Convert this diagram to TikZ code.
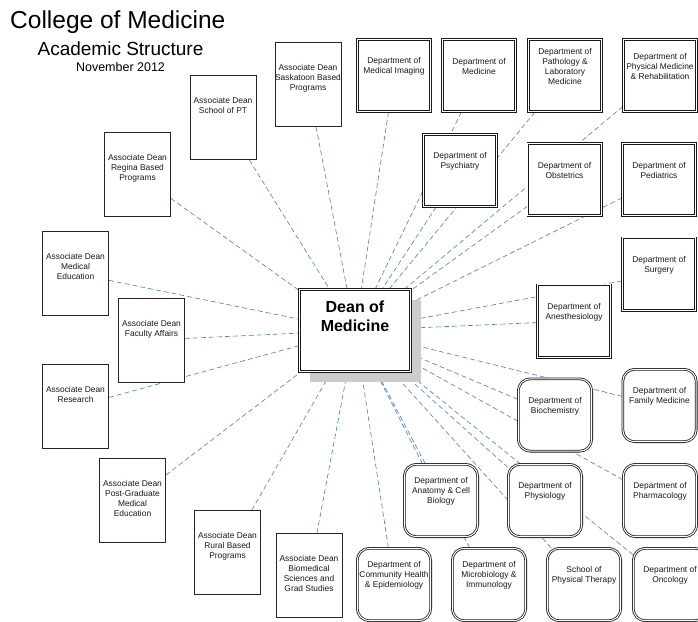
\documentclass[tikz,border=0pt]{standalone}
\usepackage{fontspec}
\setmainfont{Liberation Sans}
\usetikzlibrary{positioning,shadows}
\pgfdeclarelayer{bg}
\pgfsetlayers{bg,main}

\definecolor{linkblue}{RGB}{72,122,212}

\tikzset{
    assoc/.style={draw=black!85, line width=0.8pt, fill=white, minimum width=66pt, minimum height=84pt, inner sep=0pt},
    dept/.style={draw=black!90, double, double distance=1pt, line width=0.8pt, fill=white, minimum width=73.4pt, minimum height=72.4pt, inner sep=0pt},
    deptround/.style={dept, rounded corners=12pt},
    dean/.style={draw=black!90, double, double distance=1.2pt, line width=0.9pt, fill=white, minimum width=111pt, minimum height=82pt, inner sep=0pt,
        drop shadow={shadow xshift=10pt, shadow yshift=-10pt, fill=black!20, opacity=1}},
    boxtext/.style={align=center, inner sep=0pt, font=\fontsize{8.4}{10}\selectfont, text=black!90},
    link/.style={draw=linkblue, line width=0.6pt, dash pattern=on 5pt off 3pt},
}

\begin{document}
\begin{tikzpicture}[x=1pt, y=-1pt]
    \useasboundingbox (0,0) rectangle (698,621);
    % title
    \node[inner sep=0pt, anchor=base west, font=\fontsize{24.5}{28}\selectfont] (title) at (10,28) {College of Medicine};
    \node[inner sep=0pt, font=\fontsize{19}{22}\selectfont] (subtitle) at (120.5,49) {Academic Structure};
    \node[inner sep=0pt, font=\fontsize{12.5}{15}\selectfont] (date) at (120.5,67) {November 2012};

    % dean
    \node[dean] (dean) at (355,330.5) {};
    \node[inner sep=0pt, align=center, font=\bfseries\fontsize{16}{19}\selectfont] (dean-t) at ([yshift=-27.5pt]dean.north) {Dean of\\Medicine};

    % associate deans
    \foreach \n/\x/\y/\t in {
        sask/308/84.5/{Associate Dean\\Saskatoon Based\\Programs},
        schpt/223/117.5/{Associate Dean\\School of PT},
        regina/137.5/174.5/{Associate Dean\\Regina Based\\Programs},
        meded/75.5/273.5/{Associate Dean\\Medical\\Education},
        faculty/151.5/340/{Associate Dean\\Faculty Affairs},
        research/75.5/406.5/{Associate Dean\\Research},
        postgrad/132.5/500.5/{Associate Dean\\Post-Graduate\\Medical\\Education},
        rural/227.5/552.5/{Associate Dean\\Rural Based\\Programs},
        biomed/309/575.5/{Associate Dean\\Biomedical\\Sciences and\\Grad Studies}}
        {
            \node[assoc] (\n) at (\x,\y) {};
            \node[boxtext, below=22.5pt of \n.north] (\n-t) {\t};
        }

    % departments
    \foreach \n/\x/\y/\t in {
        medimg/394/75.5/{Department of\\Medical Imaging},
        medicine/479/75.5/{Department of\\Medicine},
        patho/565/75.5/{Department of\\Pathology \&\\Laboratory\\Medicine},
        physmed/660/75.5/{Department of\\Physical Medicine\\\& Rehabilitation},
        psych/460/170.5/{Department of\\Psychiatry},
        obstet/564.5/179.5/{Department of\\Obstetrics},
        pediat/659/179.5/{Department of\\Pediatrics},
        surgery/659/274/{Department of\\Surgery},
        anest/574/321/{Department of\\Anesthesiology}}
        {
            \node[dept] (\n) at (\x,\y) {};
            \node[boxtext] (\n-t) at ([yshift=-27.5pt]\n.north) {\t};
        }

    % departments (rounded)
    \foreach \n/\x/\y/\t in {
        biochem/555/415/{Department of\\Biochemistry},
        fammed/659.5/405.5/{Department of\\Family Medicine},
        physio/545/500.5/{Department of\\Physiology},
        pharma/660/500.5/{Department of\\Pharmacology},
        anatomy/441/500.5/{Department of\\Anatomy \& Cell\\Biology},
        commhealth/394/584.5/{Department of\\Community Health\\\& Epidemiology},
        microbio/489/584.5/{Department of\\Microbiology \&\\Immunology},
        schoolpt/584/584.5/{School of\\Physical Therapy},
        oncology/670/584.5/{Department of\\Oncology}}
        {
            \node[deptround] (\n) at (\x,\y) {};
            \node[boxtext] (\n-t) at ([yshift=-27.5pt]\n.north) {\t};
        }

    % reporting lines, behind the boxes
    \begin{pgfonlayer}{bg}
        \foreach \n in {sask,schpt,regina,meded,faculty,research,postgrad,rural,biomed,
            medimg,medicine,patho,physmed,psych,obstet,pediat,surgery,anest,
            biochem,fammed,physio,pharma,anatomy,commhealth,microbio,schoolpt,oncology}
            \draw[link] (\n) -- (dean);
    \end{pgfonlayer}
\end{tikzpicture}
\end{document}
